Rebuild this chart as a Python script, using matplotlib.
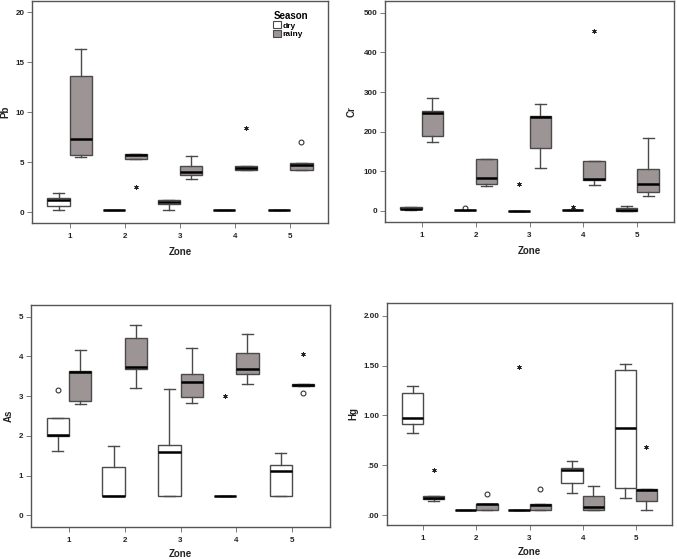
import matplotlib
matplotlib.use('Agg')
import matplotlib.pyplot as plt
from matplotlib.patches import Patch

plt.rcParams['font.family'] = ['Liberation Sans', 'DejaVu Sans']
plt.rcParams['font.weight'] = 'bold'

zones = [1, 2, 3, 4, 5]
zone_labels = ['1', '2', '3', '4', '5']
seasons = ['dry', 'rainy']

# five-number summaries per zone: [whisker_low, q1, median, q3, whisker_high]
pb_dry = [[0.23, 0.60, 1.23, 1.43, 1.90], [0.23, 0.23, 0.23, 0.23, 0.23],
          [0.23, 0.80, 0.97, 1.23, 1.23], [0.23, 0.23, 0.23, 0.23, 0.23],
          [0.23, 0.23, 0.23, 0.23, 0.23]]
pb_rainy = [[5.54, 5.74, 7.28, 13.6, 16.33], [5.31, 5.31, 5.68, 5.78, 5.84],
            [3.30, 3.74, 3.97, 4.57, 5.64], [4.20, 4.20, 4.44, 4.60, 4.60],
            [4.17, 4.17, 4.67, 4.94, 4.94]]
pb_outliers = [(2, 'rainy', 2.5, 'extreme'), (4, 'rainy', 8.41, 'extreme'),
               (5, 'rainy', 7.01, 'outlier')]

cr_dry = [[3, 4, 6, 9, 10], [3.4, 3.4, 3.4, 3.4, 3.4], [1, 1, 1, 1, 1],
          [2, 2, 2, 2, 2], [0.5, 1, 3, 7, 12]]
cr_rainy = [[173, 188, 247, 251, 284.5], [63, 69, 82.5, 130.5, 131],
            [108, 159, 236.5, 239, 269], [65, 77.5, 80, 127, 127],
            [38, 49, 67, 107, 184]]
cr_outliers = [(2, 'dry', 7.6, 'outlier'), (3, 'dry', 69, 'extreme'),
               (4, 'dry', 9, 'extreme'), (4, 'rainy', 453, 'extreme')]

as_dry = [[1.62, 2.00, 2.03, 2.46, 2.46], [0.5, 0.5, 0.5, 1.21, 1.74],
          [0.5, 0.5, 1.59, 1.78, 3.19], [0.5, 0.5, 0.5, 0.5, 0.5],
          [0.5, 0.5, 1.12, 1.28, 1.57]]
as_rainy = [[2.79, 2.88, 3.60, 3.62, 4.16], [3.21, 3.68, 3.74, 4.45, 4.79],
            [2.82, 2.99, 3.36, 3.56, 4.22], [3.31, 3.55, 3.67, 4.08, 4.56],
            [3.25, 3.25, 3.28, 3.31, 3.31]]
as_outliers = [(1, 'dry', 3.15, 'outlier'), (4, 'dry', 3.01, 'extreme'),
               (5, 'rainy', 4.07, 'extreme'), (5, 'rainy', 3.09, 'outlier')]

hg_dry = [[0.82, 0.91, 0.977, 1.23, 1.295], [0.05, 0.05, 0.05, 0.05, 0.05],
          [0.05, 0.05, 0.05, 0.05, 0.05], [0.225, 0.32, 0.456, 0.47, 0.54],
          [0.171, 0.268, 0.876, 1.453, 1.52]]
hg_rainy = [[0.144, 0.158, 0.17, 0.19, 0.19], [0.05, 0.05, 0.107, 0.11, 0.11],
            [0.05, 0.05, 0.10, 0.11, 0.11], [0.05, 0.05, 0.077, 0.195, 0.295],
            [0.05, 0.141, 0.252, 0.262, 0.262]]
hg_outliers = [(1, 'rainy', 0.453, 'extreme'), (2, 'rainy', 0.21, 'outlier'),
               (3, 'dry', 1.49, 'extreme'), (3, 'rainy', 0.26, 'outlier'),
               (5, 'rainy', 0.685, 'extreme')]

pb_ticks = [0, 5, 10, 15, 20]
pb_ticklabels = ['0', '5', '10', '15', '20']
cr_ticks = [0, 100, 200, 300, 400, 500]
cr_ticklabels = ['0', '100', '200', '300', '400', '500']
as_ticks = [0, 1, 2, 3, 4, 5]
as_ticklabels = ['0', '1', '2', '3', '4', '5']
hg_ticks = [0.0, 0.5, 1.0, 1.5, 2.0]
hg_ticklabels = ['.00', '.50', '1.00', '1.50', '2.00']

FACE = {'dry': 'white', 'rainy': '#9d9595'}
EDGE = '#4a4a4a'
OFFSET = {'dry': -0.2, 'rainy': 0.2}

fig = plt.figure(figsize=(6.77, 5.59), dpi=100)

panels = [
    ('Pb', pb_dry, pb_rainy, pb_outliers, pb_ticks, pb_ticklabels, (-1.1, 21.1),
     [32 / 677, 1 - 223 / 559, 296 / 677, 222 / 559], -0.072, -0.11),
    ('Cr', cr_dry, cr_rainy, cr_outliers, cr_ticks, cr_ticklabels, (-28, 530),
     [385 / 677, 1 - 222 / 559, 289 / 677, 221 / 559], -0.097, -0.11),
    ('As', as_dry, as_rainy, as_outliers, as_ticks, as_ticklabels, (-0.29, 5.29),
     [31 / 677, 1 - 527 / 559, 299 / 677, 222 / 559], -0.058, -0.098),
    ('Hg', hg_dry, hg_rainy, hg_outliers, hg_ticks, hg_ticklabels, (-0.10, 2.13),
     [387 / 677, 1 - 525 / 559, 285 / 677, 222 / 559], -0.100, -0.098),
]

for name, dry, rainy, outl, ticks, tlabels, ylim, rect, ylab_x, xlab_y in panels:
    ax = fig.add_axes(rect)
    for season, data in (('dry', dry), ('rainy', rainy)):
        stats = []
        for z, v in zip(zones, data):
            stats.append(dict(whislo=v[0], q1=v[1], med=v[2], q3=v[3], whishi=v[4], fliers=[]))
        pos = [z + OFFSET[season] for z in zones]
        ax.bxp(stats, positions=pos, widths=0.4, patch_artist=True, showfliers=False,
               boxprops=dict(facecolor=FACE[season], edgecolor=EDGE, linewidth=1.0),
               whiskerprops=dict(color=EDGE, linewidth=1.0),
               capprops=dict(color=EDGE, linewidth=1.0),
               medianprops=dict(color='black', linewidth=1.8, solid_capstyle='butt'),
               manage_ticks=False)
    for z, season, val, kind in outl:
        x = z + OFFSET[season]
        if kind == 'outlier':
            ax.plot([x], [val], marker='o', ms=3.5, mfc='white', mec='#333333', mew=0.8,
                    linestyle='none')
        else:
            ax.plot([x], [val], marker=(6, 2, 0), ms=3.2, mec='#222222', mew=0.6,
                    linestyle='none')
    ax.set_xlim(0.32, 5.68)
    ax.set_ylim(*ylim)
    ax.set_xticks(zones)
    ax.set_xticklabels(zone_labels)
    ax.set_yticks(ticks)
    ax.set_yticklabels(tlabels)
    ax.tick_params(axis='both', labelsize=5.8, colors='#666666', labelcolor='#222222',
                   length=3.5, width=0.6)
    ax.tick_params(axis='x', pad=4)
    ax.tick_params(axis='y', pad=2)
    for lab in ax.get_xticklabels() + ax.get_yticklabels():
        lab.set_fontweight('bold')
    for sp in ax.spines.values():
        sp.set_color('#555555')
        sp.set_linewidth(1.0)
    ax.set_xlabel('Zone', fontsize=7, fontweight='bold', color='#222222')
    ax.set_ylabel(name, fontsize=7, fontweight='bold', color='#222222')
    ax.xaxis.set_label_coords(0.5, xlab_y)
    ax.yaxis.set_label_coords(ylab_x, 0.5)
    if name == 'Pb':
        handles = [Patch(facecolor=FACE['dry'], edgecolor=EDGE, linewidth=0.8),
                   Patch(facecolor=FACE['rainy'], edgecolor=EDGE, linewidth=0.8)]
        leg = ax.legend(handles, seasons, title='Season', loc='upper left',
                        bbox_to_anchor=(0.815, 0.955), frameon=False,
                        handlelength=0.9, handleheight=0.9, handletextpad=0.25,
                        labelspacing=0.05, borderpad=0, borderaxespad=0,
                        fontsize=6, title_fontsize=7, alignment='left')
        leg.get_title().set_fontweight('bold')
        for t in leg.get_texts():
            t.set_fontweight('bold')

fig.savefig('out.png', dpi=100)
